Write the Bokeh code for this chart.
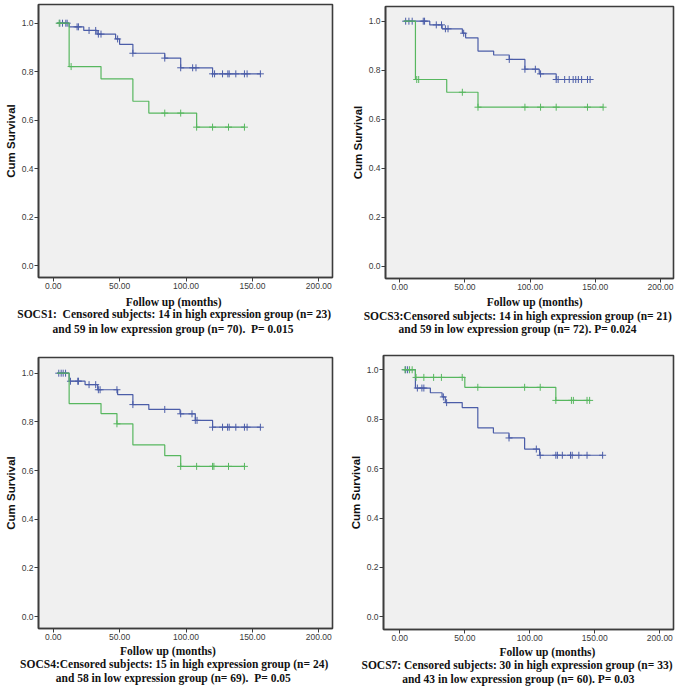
from bokeh.plotting import figure
from bokeh.layouts import row, column
from bokeh.models import Range1d, FixedTicker, Div
from bokeh.embed import file_html
from bokeh.resources import INLINE

BLUE = "#4b5da8"
GREEN = "#57b75f"
FRAME = "#3c3c3c"

x_ticks = [0, 50, 100, 150, 200]
x_tick_labels = ["0.00", "50.00", "100.00", "150.00", "200.00"]
y_ticks = [0.0, 0.2, 0.4, 0.6, 0.8, 1.0]
y_tick_labels = ["0.0", "0.2", "0.4", "0.6", "0.8", "1.0"]

# ---- SOCS1 ----
socs1_blue_t = [3, 12, 23, 33, 47, 50, 60, 84, 96, 120, 156]
socs1_blue_s = [1.0, 0.985, 0.970, 0.955, 0.935, 0.913, 0.876, 0.856, 0.816, 0.791, 0.791]
socs1_blue_c = [5, 7, 9.5, 10.5, 18, 19, 27, 32, 34, 36, 48.5, 60, 84, 96, 105, 107.5,
                120, 121.5, 127.5, 131.5, 132.5, 137.5, 144, 146, 156]
socs1_green_t = [3, 12, 36, 60, 72, 108, 144]
socs1_green_s = [1.0, 0.821, 0.770, 0.678, 0.629, 0.571, 0.571]
socs1_green_c = [4.5, 13.5, 84, 96, 108, 120, 132, 144]
socs1_lines = ["Follow up (months)",
               "SOCS1:  Censored subjects: 14 in high expression group (n= 23)",
               "and 59 in low expression group (n= 70).  P= 0.015"]

# ---- SOCS3 ----
socs3_blue_t = [3, 23, 32.5, 48, 50.5, 60, 72, 84, 96, 107, 120, 146]
socs3_blue_s = [1.0, 0.985, 0.969, 0.951, 0.932, 0.878, 0.862, 0.844, 0.804, 0.785, 0.762, 0.762]
socs3_blue_c = [4.5, 7, 9.5, 18, 19, 28, 32, 35, 37, 49, 84, 96, 104, 108,
                120, 121.5, 126.5, 130, 133, 135, 137, 139.5, 144, 146]
socs3_green_t = [3, 12, 36, 60, 156]
socs3_green_s = [1.0, 0.762, 0.710, 0.649, 0.649]
socs3_green_c = [13, 14.5, 48, 60, 96, 108, 120, 144, 156]
socs3_lines = ["Follow up (months)",
               "SOCS3:Censored subjects: 14 in high expression group (n= 21)",
               "and 59 in low expression group (n= 72). P= 0.024"]

# ---- SOCS4 ----
socs4_blue_t = [3, 12, 24, 33.5, 48.5, 60, 72, 95.5, 107, 120, 156]
socs4_blue_s = [1.0, 0.967, 0.953, 0.932, 0.912, 0.871, 0.851, 0.833, 0.806, 0.778, 0.778]
socs4_blue_c = [4.2, 6, 7.5, 9.3, 13, 18.5, 19, 27, 32, 34, 35.3, 48, 60, 84, 96, 104.5,
                107, 108.3, 120, 127.5, 131.3, 132.5, 137.5, 144, 146, 156]
socs4_green_t = [3, 12, 36, 48, 60, 84, 96, 144]
socs4_green_s = [1.0, 0.875, 0.834, 0.792, 0.705, 0.661, 0.617, 0.617]
socs4_green_c = [48, 96, 108, 120, 121, 132, 144]
socs4_lines = ["Follow up (months)",
               "SOCS4:Censored subjects: 15 in high expression group (n= 24)",
               "and 58 in low expression group (n= 69).  P= 0.05"]

# ---- SOCS7 ----
socs7_blue_t = [3, 12, 23.5, 32.5, 35, 48, 60, 72, 84, 96, 107.5, 156]
socs7_blue_s = [1.0, 0.926, 0.907, 0.890, 0.867, 0.847, 0.765, 0.744, 0.724, 0.679, 0.654, 0.654]
socs7_blue_c = [4.5, 6, 13.5, 17, 18.5, 33.5, 36, 84, 105, 108, 120, 121.2, 125,
                131.3, 132.6, 137.7, 144, 156]
socs7_green_t = [3, 12, 50, 120, 146]
socs7_green_s = [1.0, 0.969, 0.929, 0.876, 0.876]
socs7_green_c = [4, 7.5, 9.5, 12.5, 18.5, 26, 32, 48, 60, 96, 108, 120, 132, 133.5, 144, 146]
socs7_lines = ["Follow up (months)",
               "SOCS7: Censored subjects: 30 in high expression group (n= 33)",
               "and 43 in low expression group (n= 60). P= 0.03"]


def surv_at(ts, ss, t):
    v = ss[0]
    for ti, si in zip(ts, ss):
        if ti <= t:
            v = si
    return v


def panel(w, h, bl, br, bt, bb, xr, yr, curves):
    p = figure(width=w, height=h, x_range=Range1d(*xr), y_range=Range1d(*yr),
               output_backend="svg", toolbar_location=None,
               min_border_left=bl, min_border_right=br, min_border_top=bt,
               min_border_bottom=bb,
               background_fill_color="#f0f0f0", border_fill_color="white")
    p.grid.visible = False
    p.outline_line_color = FRAME
    p.outline_line_width = 1.6
    for ax in (p.xaxis, p.yaxis):
        ax.axis_line_color = FRAME
        ax.axis_line_width = 1.6
        ax.major_tick_in = 0
        ax.major_tick_out = 4
        ax.major_tick_line_color = FRAME
        ax.minor_tick_line_color = None
        ax.major_label_text_font = "Liberation Sans"
        ax.major_label_text_font_size = "8.5px"
        ax.major_label_text_color = "#3a3a3a"
        ax.major_label_standoff = 1
    p.xaxis.ticker = FixedTicker(ticks=x_ticks)
    p.xaxis.major_label_overrides = {t: l for t, l in zip(x_ticks, x_tick_labels)}
    p.yaxis.ticker = FixedTicker(ticks=y_ticks)
    p.yaxis.major_label_overrides = {t: l for t, l in zip(y_ticks, y_tick_labels)}
    p.yaxis.axis_label = "Cum Survival"
    p.yaxis.axis_label_text_font = "Liberation Sans"
    p.yaxis.axis_label_text_font_style = "bold"
    p.yaxis.axis_label_text_font_size = "11.5px"
    p.yaxis.axis_label_text_color = "#111111"
    p.yaxis.axis_label_standoff = 2

    for ts, ss, cs, col in curves:
        p.step(ts, ss, mode="after", line_color=col, line_width=1.2)
        cy = [surv_at(ts, ss, c) for c in cs]
        p.scatter(cs, cy, marker="cross", size=7, line_color=col, line_width=1)
    return p


def caption(w, h, lines, xs, ys):
    items = "".join(
        '<div style="position:absolute;left:%spx;top:%spx;transform:translate(-50%%,-50%%);'
        'white-space:pre;line-height:1;">%s</div>' % (x, y, t)
        for t, x, y in zip(lines, xs, ys))
    html = ('<div style="position:relative;width:%dpx;height:%dpx;overflow:visible;'
            "font-family:'Liberation Serif';font-weight:bold;font-size:11.5px;"
            'color:#111111;">%s</div>' % (w, h, items))
    return Div(text=html, width=w, height=h, margin=0)


p1 = panel(343, 295, 38, 11, 4, 18, (-11.07, 210.3), (-0.0495, 1.0772),
           [(socs1_blue_t, socs1_blue_s, socs1_blue_c, BLUE),
            (socs1_green_t, socs1_green_s, socs1_green_c, GREEN)])
c1 = caption(343, 45, socs1_lines, [173.7, 174.2, 173.0], [8.0, 20.0, 35.0])

p2 = panel(341, 295, 42, 11, 6, 17, (-10.97, 210.0), (-0.0502, 1.060),
           [(socs3_blue_t, socs3_blue_s, socs3_blue_c, BLUE),
            (socs3_green_t, socs3_green_s, socs3_green_c, GREEN)])
c2 = caption(341, 45, socs3_lines, [191.7, 174.8, 174.5], [8.3, 21.7, 35.0])

p3 = panel(343, 303, 38, 11, 17, 15, (-11.07, 210.3), (-0.0493, 1.0645),
           [(socs4_blue_t, socs4_blue_s, socs4_blue_c, BLUE),
            (socs4_green_t, socs4_green_s, socs4_green_c, GREEN)])
c3 = caption(343, 47, socs4_lines, [168.0, 174.2, 173.3], [8.7, 22.0, 36.0])

p4 = panel(341, 303, 40, 11, 15, 14, (-12.54, 210.5), (-0.0512, 1.0577),
           [(socs7_blue_t, socs7_blue_s, socs7_blue_c, BLUE),
            (socs7_green_t, socs7_green_s, socs7_green_c, GREEN)])
c4 = caption(341, 47, socs7_lines, [204.5, 174.0, 175.3], [10.3, 22.7, 37.0])

layout = column(row(column(p1, c1), column(p2, c2)),
                row(column(p3, c3), column(p4, c4)))
open("out.html", "w").write(file_html(layout, INLINE))
